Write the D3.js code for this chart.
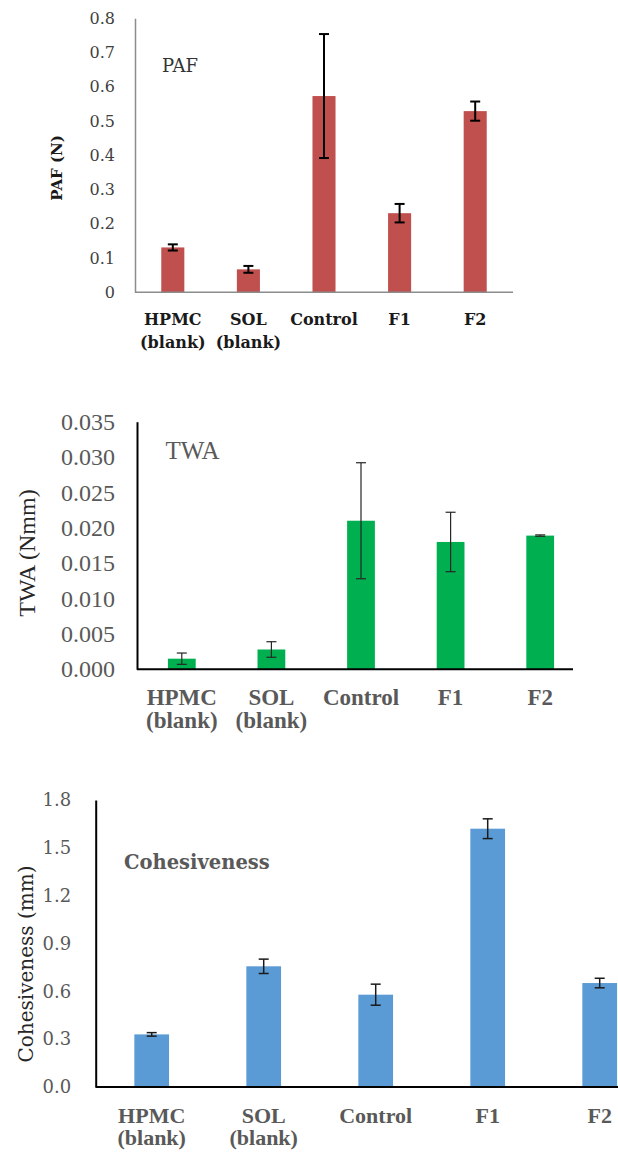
<!DOCTYPE html>
<html>
<head>
<meta charset="utf-8">
<script src="https://cdn.jsdelivr.net/npm/d3@7"></script>
<style>
  body { margin: 0; background: #fff; }
  svg { display: block; }
</style>
</head>
<body>
<script>
// categories shared by all three panels (a space splits the label onto two lines)
const categories = ['HPMC (blank)', 'SOL (blank)', 'Control', 'F1', 'F2'];

// PAF (N)
const pafMeans = [0.131, 0.067, 0.573, 0.231, 0.529];
const pafErrors = [0.009, 0.010, 0.181, 0.027, 0.028];
const pafTicks = [0, 0.1, 0.2, 0.3, 0.4, 0.5, 0.6, 0.7, 0.8];

// TWA (Nmm)
const twaMeans = [0.0015, 0.0028, 0.0210, 0.0180, 0.0189];
const twaErrors = [0.0008, 0.0011, 0.0082, 0.0042, 0.0001];
const twaTicks = [0, 0.005, 0.010, 0.015, 0.020, 0.025, 0.030, 0.035];

// Cohesiveness (mm)
const cohMeans = [0.330, 0.757, 0.579, 1.620, 0.652];
const cohErrors = [0.011, 0.045, 0.066, 0.062, 0.030];
const cohTicks = [0, 0.3, 0.6, 0.9, 1.2, 1.5, 1.8];

const width = 618;
const height = 1157;

const CAMBRIA = "'DejaVu Serif', serif";
const TIMES = "'Liberation Serif', 'Times New Roman', serif";

const svg = d3.select('body')
	.append('svg')
	.attr('width', width)
	.attr('height', height);

const drawPanel = p => {
	const x = d3.scaleBand()
		.domain(categories)
		.range([p.left, p.right])
		.paddingInner(p.pad)
		.paddingOuter(p.pad / 2);

	const y = d3.scaleLinear()
		.domain([0, d3.max(p.ticks)])
		.range([p.bottom, p.top]);

	const g = svg.append('g');
	const rows = p.means.map((m, i) => ({ cat: categories[i], m, e: p.errors[i] }));

	g.append('g')
		.selectAll('rect')
		.data(rows)
		.join('rect')
		.attr('x', d => x(d.cat))
		.attr('y', d => y(d.m))
		.attr('width', x.bandwidth())
		.attr('height', d => y(0) - y(d.m))
		.attr('fill', p.color);

	// error bars
	const err = g.append('g')
		.attr('stroke', p.errColor)
		.attr('stroke-width', p.errWidth)
		.selectAll('g')
		.data(rows)
		.join('g')
		.attr('transform', d => `translate(${x(d.cat) + x.bandwidth() / 2},0)`);

	err.append('line')
		.attr('y1', d => y(d.m + d.e))
		.attr('y2', d => y(d.m - d.e));
	err.append('line')
		.attr('x1', -p.cap / 2).attr('x2', p.cap / 2)
		.attr('y1', d => y(d.m + d.e)).attr('y2', d => y(d.m + d.e));
	err.append('line')
		.attr('x1', -p.cap / 2).attr('x2', p.cap / 2)
		.attr('y1', d => y(d.m - d.e)).attr('y2', d => y(d.m - d.e));

	// y axis
	const yAxis = g.append('g')
		.attr('transform', `translate(${p.left},0)`)
		.call(d3.axisLeft(y).tickValues(p.ticks).tickFormat(p.fmt).tickSize(0).tickPadding(p.tickPad));

	yAxis.select('.domain')
		.attr('stroke', p.axisColor)
		.attr('stroke-width', p.axisWidth);
	yAxis.selectAll('text')
		.style('font-family', p.tickFont)
		.style('font-size', p.tickSize + 'px')
		.attr('fill', p.tickColor);

	// x axis line + category labels
	g.append('line')
		.attr('x1', p.left)
		.attr('x2', p.axisEnd)
		.attr('y1', y(0))
		.attr('y2', y(0))
		.attr('stroke', p.axisColor)
		.attr('stroke-width', p.axisWidth);

	const labels = g.append('g')
		.selectAll('text')
		.data(categories)
		.join('text')
		.attr('x', d => x(d) + x.bandwidth() / 2)
		.attr('y', y(0) + p.labelOffset)
		.attr('text-anchor', 'middle')
		.style('font-family', p.labelFont)
		.style('font-size', p.labelSize + 'px')
		.style('font-weight', 'bold')
		.attr('fill', p.labelColor);

	labels.each(function (d) {
		const t = d3.select(this);
		d.split(' ').forEach((part, i) => {
			t.append('tspan')
				.attr('x', x(d) + x.bandwidth() / 2)
				.attr('dy', i === 0 ? 0 : p.lineGap)
				.text(part);
		});
	});

	// rotated axis title
	g.append('text')
		.attr('transform', `translate(${p.titleX},${p.titleY}) rotate(-90)`)
		.attr('text-anchor', 'middle')
		.attr('dominant-baseline', 'central')
		.style('font-family', p.titleFont)
		.style('font-size', p.titleSize + 'px')
		.style('font-weight', p.titleWeight)
		.attr('fill', p.titleColor)
		.text(p.title);

	// in-plot label
	g.append('text')
		.attr('x', p.noteX)
		.attr('y', p.noteY)
		.style('font-family', p.noteFont)
		.style('font-size', p.noteSize + 'px')
		.style('font-weight', p.noteWeight)
		.attr('fill', p.noteColor)
		.text(p.note);
};

drawPanel({
	means: pafMeans, errors: pafErrors, ticks: pafTicks,
	fmt: d3.format(''),
	left: 135, right: 513, axisEnd: 513, bottom: 292.3, top: 18.3, pad: 0.695,
	color: '#C0504D', errColor: '#000', errWidth: 2, cap: 10,
	axisColor: '#8c8c8c', axisWidth: 1.5,
	tickFont: CAMBRIA, tickSize: 16, tickColor: '#404040', tickPad: 20,
	labelFont: CAMBRIA, labelSize: 16, labelColor: '#1a1a1a', labelOffset: 33, lineGap: 23,
	title: 'PAF (N)', titleX: 57, titleY: 168, titleFont: CAMBRIA, titleSize: 15,
	titleWeight: 'bold', titleColor: '#1a1a1a',
	note: 'PAF', noteX: 162, noteY: 71.5, noteFont: CAMBRIA, noteSize: 18,
	noteWeight: 'normal', noteColor: '#333'
});

drawPanel({
	means: twaMeans, errors: twaErrors, ticks: twaTicks,
	fmt: d3.format('.3f'),
	left: 137, right: 585, axisEnd: 573, bottom: 669.3, top: 421.7, pad: 0.69,
	color: '#00B050', errColor: '#262626', errWidth: 1.2, cap: 10,
	axisColor: '#000', axisWidth: 2,
	tickFont: TIMES, tickSize: 24, tickColor: '#595959', tickPad: 22,
	labelFont: TIMES, labelSize: 23, labelColor: '#595959', labelOffset: 35.5, lineGap: 23,
	title: 'TWA (Nmm)', titleX: 27, titleY: 553, titleFont: TIMES, titleSize: 24,
	titleWeight: 'normal', titleColor: '#262626',
	note: 'TWA', noteX: 165.5, noteY: 459, noteFont: TIMES, noteSize: 25,
	noteWeight: 'normal', noteColor: '#595959'
});

drawPanel({
	means: cohMeans, errors: cohErrors, ticks: cohTicks,
	fmt: d3.format('.1f'),
	left: 95.7, right: 655.7, axisEnd: 618, bottom: 1087, top: 800, pad: 0.69,
	color: '#5B9BD5', errColor: '#1a1a1a', errWidth: 1.5, cap: 10,
	axisColor: '#000', axisWidth: 2,
	tickFont: CAMBRIA, tickSize: 18, tickColor: '#595959', tickPad: 24.5,
	labelFont: TIMES, labelSize: 22, labelColor: '#595959', labelOffset: 35.5, lineGap: 22.6,
	title: 'Cohesiveness (mm)', titleX: 26, titleY: 964, titleFont: CAMBRIA, titleSize: 20,
	titleWeight: 'normal', titleColor: '#262626',
	note: 'Cohesiveness', noteX: 124, noteY: 868.5, noteFont: CAMBRIA, noteSize: 19.5,
	noteWeight: 'bold', noteColor: '#595959'
});
</script>
</body>
</html>
